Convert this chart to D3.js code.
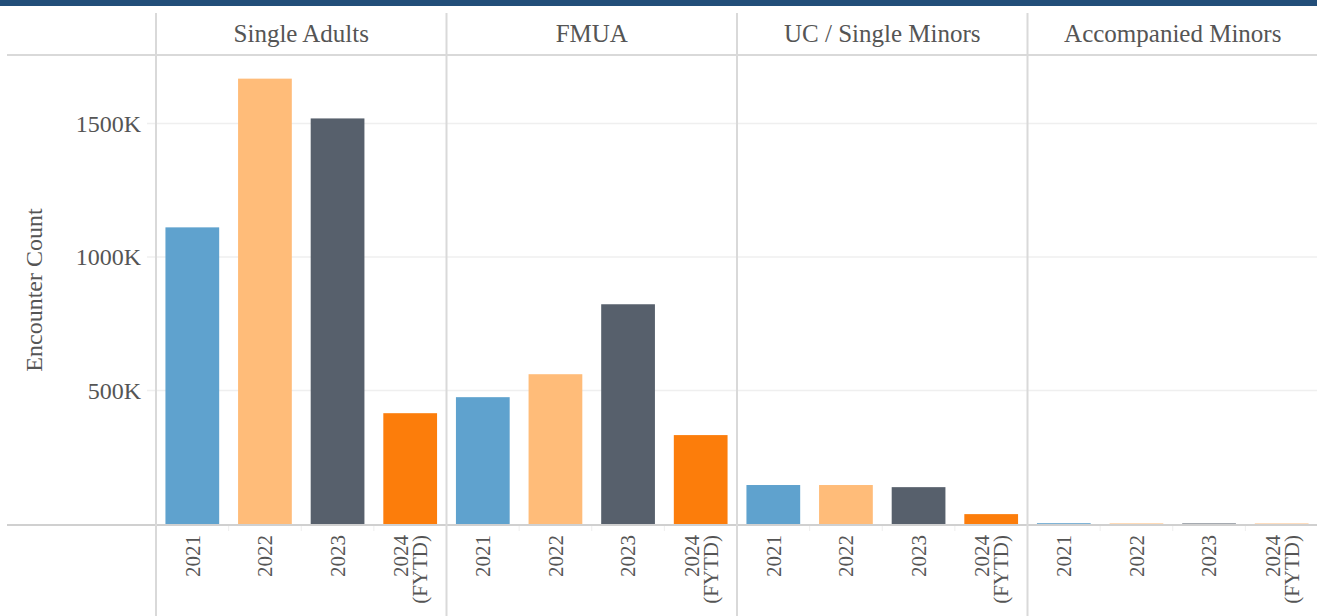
<!DOCTYPE html>
<html>
<head>
<meta charset="utf-8">
<script src="https://cdn.jsdelivr.net/npm/d3@7"></script>
<style>
  body { margin: 0; background: #fff; }
</style>
</head>
<body>
<div id="chart"></div>
<script>
const groups = ['Single Adults', 'FMUA', 'UC / Single Minors', 'Accompanied Minors'];
const years = ['2021', '2022', '2023', '2024 (FYTD)'];
const singleAdults = [1111000, 1668000, 1519000, 415000];
const fmua = [475000, 561000, 823000, 333000];
const ucMinors = [146000, 146000, 138000, 37000];
const accMinors = [3000, 2000, 2000, 1000];
const yTicks = [500000, 1000000, 1500000];
const colors = ['#5fa2ce', '#ffbc79', '#57606c', '#fc7d0b'];

const seriesByGroup = [singleAdults, fmua, ucMinors, accMinors];

const W = 1317, H = 616;
const plotLeft = 156, plotRight = 1318, headerBottom = 55, base = 524;
const serif = "'Liberation Serif', 'Times New Roman', 'DejaVu Serif', serif";

const svg = d3.select('#chart').append('svg')
  .attr('width', W).attr('height', H)
  .attr('font-family', serif)
  .style('font-family', serif);

// top band
svg.append('rect').attr('x', 0).attr('y', 0).attr('width', W).attr('height', 6).attr('fill', '#224e79');

const xGroup = d3.scaleBand().domain(groups).range([plotLeft, plotRight]).padding(0);
const xYear = d3.scaleBand().domain(years).range([0, xGroup.bandwidth()]).paddingInner(0.26).paddingOuter(0.13);
const y = d3.scaleLinear().domain([0, 1500000]).range([base, 123.5]);

// gridlines
svg.append('g').selectAll('line').data(yTicks).join('line')
  .attr('x1', 147).attr('x2', W)
  .attr('y1', d => y(d)).attr('y2', d => y(d))
  .attr('stroke', '#efefef').attr('stroke-width', 1.5);

// y tick labels
svg.append('g').selectAll('text').data(yTicks).join('text')
  .attr('x', 141).attr('y', d => y(d)).attr('dy', '0.35em')
  .attr('text-anchor', 'end').attr('font-size', 24).attr('fill', '#555')
  .text(d => (d / 1000) + 'K');

svg.append('text')
  .attr('transform', 'translate(42,290) rotate(-90)')
  .attr('text-anchor', 'middle').attr('font-size', 24).attr('fill', '#555')
  .text('Encounter Count');

// bars
groups.forEach((g, gi) => {
  const gx = xGroup(g);
  const gEl = svg.append('g').attr('transform', `translate(${gx},0)`);
  gEl.selectAll('rect').data(seriesByGroup[gi]).join('rect')
    .attr('x', (d, i) => xYear(years[i]))
    .attr('width', xYear.bandwidth())
    .attr('y', d => y(d))
    .attr('height', d => base - y(d))
    .attr('fill', (d, i) => colors[i]);

  // header
  svg.append('text')
    .attr('x', gx + xGroup.bandwidth() / 2).attr('y', 42)
    .attr('text-anchor', 'middle').attr('font-size', 25).attr('fill', '#555')
    .text(g);

  // faint ticks between slots
  gEl.selectAll('line.sep').data(years.slice(1)).join('line')
    .attr('x1', d => xYear(d) - xYear.step() * 0.13).attr('x2', d => xYear(d) - xYear.step() * 0.13)
    .attr('y1', base).attr('y2', base + 7)
    .attr('stroke', '#eee');

  // rotated year labels
  years.forEach((yr, i) => {
    const cx = xYear(yr) + xYear.bandwidth() / 2;
    const parts = yr.split(' ');
    const t = gEl.append('text')
      .attr('transform', `translate(${cx},535) rotate(-90)`)
      .attr('text-anchor', 'end').attr('font-size', 21).attr('fill', '#555');
    parts.forEach((p, pi) => {
      t.append('tspan').attr('x', 0)
        .attr('dy', pi === 0 ? (parts.length > 1 ? '-0.1em' : '0.35em') : '0.9em')
        .text(p);
    });
  });
});

// frame lines
svg.append('line').attr('x1', 7).attr('x2', W).attr('y1', headerBottom).attr('y2', headerBottom)
  .attr('stroke', '#d9d9d9').attr('stroke-width', 2);
svg.append('line').attr('x1', 7).attr('x2', W).attr('y1', base + 1).attr('y2', base + 1)
  .attr('stroke', '#d0d0d0').attr('stroke-width', 2);
svg.append('g').selectAll('line').data(groups).join('line')
  .attr('x1', d => xGroup(d)).attr('x2', d => xGroup(d))
  .attr('y1', 13).attr('y2', H)
  .attr('stroke', '#d9d9d9').attr('stroke-width', 2);
</script>
</body>
</html>
